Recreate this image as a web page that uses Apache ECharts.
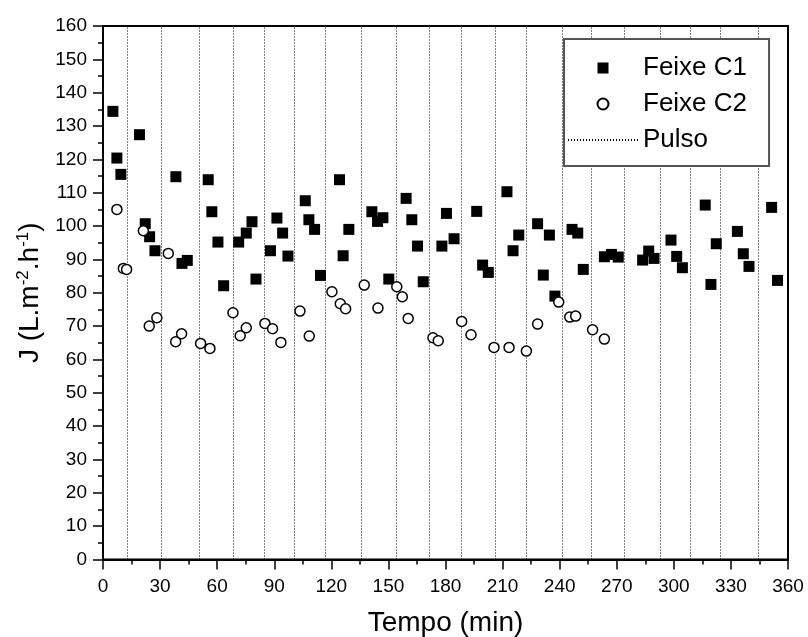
<!DOCTYPE html>
<html>
<head>
<meta charset="utf-8">
<script src="https://cdn.jsdelivr.net/npm/echarts@6/dist/echarts.min.js"></script>
<style>
html,body{margin:0;padding:0;background:#fff;}
#chart{width:808px;height:637px;}
</style>
</head>
<body>
<div id="chart"></div>
<script>
// Feixe C1 (filled squares): [tempo (min), J]
const feixeC1 = [
  [5.2,134.4],[7.3,120.4],[9.4,115.5],[19.2,127.4],[22.2,100.7],[24.5,96.8],[27.3,92.6],
  [38.3,114.8],[41.5,88.8],[44.3,89.7],[55.3,113.9],[57.2,104.3],[60.4,95.2],[63.4,82.1],
  [71.3,95.2],[75.3,97.9],[78.3,101.3],[80.4,84.1],[88.0,92.6],[91.4,102.4],[94.4,97.9],
  [97.2,91.0],[106.3,107.6],[108.2,101.9],[111.2,99.0],[114.3,85.2],[124.3,113.9],[126.2,91.1],
  [129.2,99.0],[141.3,104.3],[144.3,101.4],[147.1,102.5],[150.2,84.1],[159.3,108.3],[162.3,101.9],
  [165.3,94.0],[168.3,83.3],[178.1,94.0],[180.5,103.8],[184.5,96.2],[196.4,104.4],[199.5,88.3],
  [202.5,86.1],[212.3,110.3],[215.5,92.6],[218.5,97.3],[228.4,100.7],[231.4,85.3],[234.6,97.3],
  [237.5,79.0],[246.5,99.0],[249.5,97.9],[252.4,87.0],[263.5,90.8],[267.2,91.5],[270.8,90.7],
  [283.6,89.8],[286.8,92.5],[289.6,90.3],[298.5,95.8],[301.5,90.9],[304.5,87.5],[316.5,106.3],
  [319.5,82.5],[322.3,94.7],[333.4,98.4],[336.5,91.7],[339.5,87.9],[351.4,105.6],[354.5,83.7]
];
// Feixe C2 (open circles): [tempo (min), J]
const feixeC2 = [
  [7.3,105.0],[10.7,87.3],[12.4,87.0],[21.2,98.6],[24.3,70.0],[28.3,72.5],[34.3,91.8],
  [38.2,65.3],[41.3,67.7],[51.3,64.8],[56.2,63.3],[68.3,74.0],[72.1,67.1],[75.3,69.5],
  [85.1,70.8],[89.1,69.2],[93.5,65.1],[103.5,74.5],[108.4,67.0],[120.3,80.3],[124.7,76.7],
  [127.5,75.2],[137.3,82.3],[144.5,75.4],[154.4,81.8],[157.3,78.8],[160.4,72.3],[173.4,66.5],
  [176.2,65.6],[188.5,71.4],[193.4,67.4],[205.5,63.6],[213.4,63.6],[222.5,62.5],[228.4,70.6],
  [239.5,77.2],[245.3,72.7],[248.4,73.0],[257.3,68.9],[263.5,66.1]
];
// Pulse times (min)
const pulsos = [12.5,30.5,50.5,68.5,84.5,100.5,117,135.5,154,171.5,188.5,206,222.5,241.5,256.5,274,293,308.5,324.5,344.5];

const xTicks = {min:0, max:360, interval:30};
const yTicks = {min:0, max:160, interval:10};

const FONT = "'Liberation Sans', Arial, sans-serif";
const chart = echarts.init(document.getElementById('chart'), null, {renderer:'canvas'});

chart.setOption({
  animation: false,
  backgroundColor: '#fff',
  grid: {left:103, right:20, top:26, bottom:77.5, containLabel:false, outerBoundsMode:'none',
    show:true, borderColor:'#000', borderWidth:2, backgroundColor:'transparent'},
  legend: {
    left: 564, top: 39, orient: 'vertical', z: 10,
    data: [
      {name:'Feixe C1', icon:'path://M0,0L10,0L10,10L0,10Z'},
      {name:'Feixe C2', icon:'circle'},
      {name:'Pulso', itemStyle:{opacity:0}}
    ],
    itemWidth: 70, itemHeight: 11, itemGap: 10,
    symbolKeepAspect: true,
    padding: [16, 22, 13, 3],
    backgroundColor: '#fff', borderColor: '#555', borderWidth: 2, borderRadius: 0,
    textStyle: {fontFamily: FONT, fontSize: 26, color:'#000'},
    selectedMode: false
  },
  xAxis: {
    type:'value', min:xTicks.min, max:xTicks.max, interval:xTicks.interval,
    name:'Tempo (min)', nameLocation:'middle', nameGap:50,
    nameTextStyle:{fontFamily:FONT, fontSize:28, color:'#000'},
    axisLine:{show:true, onZero:false, lineStyle:{color:'#000', width:2}},
    axisTick:{show:true, inside:false, length:10, lineStyle:{color:'#000', width:1.5}},
    minorTick:{show:true, splitNumber:2, length:5, lineStyle:{color:'#000', width:1.5}},
    axisLabel:{fontFamily:FONT, fontSize:19, color:'#000', margin:18},
    splitLine:{show:false}
  },
  yAxis: {
    type:'value', min:yTicks.min, max:yTicks.max, interval:yTicks.interval,
    name:'{a|J (L.m}{s|-2}{a|.h}{s|-1}{a|)}', nameLocation:'middle', nameGap:58,
    nameTextStyle:{fontFamily:FONT, fontSize:28, color:'#000',
      rich:{a:{fontFamily:FONT, fontSize:28, color:'#000'}, s:{fontFamily:FONT, fontSize:17, color:'#000', verticalAlign:'top', padding:[0,0,13,0]}}},
    axisLine:{show:true, onZero:false, lineStyle:{color:'#000', width:2}},
    axisTick:{show:true, inside:false, length:10, lineStyle:{color:'#000', width:1.5}},
    minorTick:{show:true, splitNumber:2, length:5, lineStyle:{color:'#000', width:1.5}},
    axisLabel:{fontFamily:FONT, fontSize:19, color:'#000', margin:16},
    splitLine:{show:false}
  },
  series: [
    {
      name:'Pulso', type:'line', data:[], symbol:'none', z:1,
      lineStyle:{color:'#000', width:1, type:[1,2]},
      itemStyle:{color:'#000'},
      markLine:{
        silent:true, symbol:['none','none'], label:{show:false}, z:1,
        lineStyle:{color:'#000', width:1, type:[1,2]},
        emphasis:{disabled:true},
        data: pulsos.map(v => ({xAxis:v}))
      }
    },
    {
      name:'Feixe C1', type:'scatter', data:feixeC1, symbol:'rect', symbolSize:11, z:3,
      itemStyle:{color:'#000', opacity:1}
    },
    {
      name:'Feixe C2', type:'scatter', data:feixeC2, symbol:'circle', symbolSize:10, z:4,
      itemStyle:{color:'#fff', borderColor:'#000', borderWidth:1.5, opacity:1}
    }
  ]
});
</script>
</body>
</html>
